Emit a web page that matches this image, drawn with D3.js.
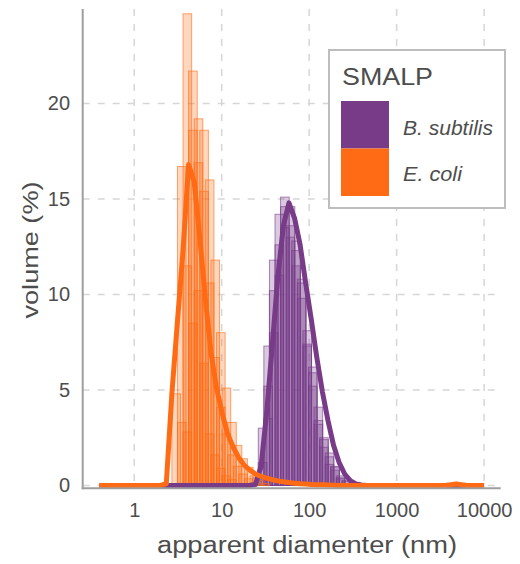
<!DOCTYPE html>
<html>
<head>
<meta charset="utf-8">
<script src="https://cdn.jsdelivr.net/npm/d3@7"></script>
<style>
  body { margin: 0; background: #fff; }
  text { font-family: "Liberation Sans", Arial, sans-serif; fill: #4d4d4d; }
</style>
</head>
<body>
<div id="chart"></div>
<script>
// tailles des classes (nm)
const sizes = [0.4, 0.4632, 0.5365, 0.6213, 0.7195, 0.8332, 0.9650, 1.117, 1.294, 1.499,
  1.736, 2.010, 2.328, 2.696, 3.122, 3.615, 4.187, 4.849, 5.615, 6.503,
  7.531, 8.721, 10.10, 11.70, 13.54, 15.69, 18.17, 21.04, 24.36, 28.21,
  32.67, 37.84, 43.82, 50.75, 58.77, 68.06, 78.82, 91.28, 105.7, 122.4,
  141.8, 164.2, 190.1, 220.2, 255.0, 295.3, 342.0, 396.1, 458.7, 531.2,
  615.1, 712.4, 825.0, 955.4, 1106, 1281, 1484, 1718, 1990, 2305,
  2669, 3091, 3580, 4145, 4801, 5560, 6439, 7456, 8635, 10000];

const seriesNames = ["B. subtilis", "E. coli"];
const seriesColors = ["#773b88", "#ff6b14"];

// mesures (3 répétitions) – B. subtilis
const bsubRep1 = [0,0,0,0,0,0,0,0,0,0, 0,0,0,0,0,0,0,0,0,0,
  0,0,0,0,0,0,0,0,3.0,7.3, 11.8,14.2,15.1,14.6,12.8,10.8,8.1,6.2,4.1,2.5,
  1.7,1.0,0.5,0.26,0.1,0,0,0,0,0, 0,0,0,0,0,0,0,0,0,0, 0,0,0,0,0,0,0,0,0,0];
const bsubRep2 = [0,0,0,0,0,0,0,0,0,0, 0,0,0,0,0,0,0,0,0,0,
  0,0,0,0,0,0,0,0.4,1.2,5.2, 10.2,12.6,14.6,13.6,12.3,10.6,7.4,5.9,3.4,2.4,
  1.5,0.96,0.4,0.2,0,0,0,0,0,0, 0,0,0,0,0,0,0,0,0,0, 0,0,0,0,0,0,0,0,0,0];
const bsubRep3 = [0,0,0,0,0,0,0,0,0,0, 0,0,0,0,0,0,0,0,0,0,
  0,0,0,0,0,0,0,0,0.5,3.5, 8.0,11.0,13.5,13.0,11.5,9.8,7.3,5.2,3.2,2.0,
  1.1,0.8,0.35,0.1,0,0,0,0,0,0, 0,0,0,0,0,0,0,0,0,0, 0,0,0,0,0,0,0,0,0,0];

// mesures (3 répétitions) – E. coli
const ecoliRep1 = [0,0,0,0,0,0,0,0,0,0, 0,0,0,4.8,16.7,24.7,21.7,19.2,18.6,16.0,
  11.8,8.0,5.1,3.3,2.1,1.4,0.95,0.5,0.25,0.1, 0,0,0,0,0,0,0,0,0,0,
  0,0,0,0,0,0,0,0,0,0, 0,0,0,0,0,0,0,0,0,0, 0,0,0,0,0,0,0,0,0,0];
const ecoliRep2 = [0,0,0,0,0,0,0,0,0,0, 0,0,0,0,3.3,11.5,18.6,16.9,15.4,10.6,
  6.7,4.1,2.7,1.6,1.0,0.6,0.35,0.15,0,0, 0,0,0,0,0,0,0,0,0,0,
  0,0,0,0,0,0,0,0,0,0, 0,0,0,0,0,0,0,0,0,0, 0,0,0,0,0,0,0,0,0,0];
const ecoliRep3 = [0,0,0,0,0,0,0,0,0,0, 0,0,0,0,0,2.8,8.5,10.2,6.4,2.7,
  1.6,0.9,0.5,0.3,0.1,0,0,0,0,0, 0,0,0,0,0,0,0,0,0,0,
  0,0,0,0,0,0,0,0,0,0, 0,0,0,0,0,0,0,0,0,0, 0,0,0,0,0,0,0,0,0,0];

// courbes ajustées
const bsubFit = [0,0,0,0,0,0,0,0,0,0, 0,0,0,0,0,0,0,0,0,0,
  0,0,0,0,0,0,0,0,0.05,1.0, 3.8,7.3,10.9,13.6,14.8,14.0,12.6,10.6,8.7,6.7,
  4.9,3.4,2.1,1.2,0.6,0.25,0.08,0.02,0,0, 0,0,0,0,0,0,0,0,0,0, 0,0,0,0,0,0,0,0,0,0];
const ecoliFit = [0,0,0,0,0,0,0,0,0,0, 0,0,0.1,4.8,8.6,12.3,16.8,15.9,13.0,9.8,
  7.0,5.1,3.8,2.7,2.0,1.45,1.05,0.8,0.6,0.47, 0.38,0.3,0.24,0.19,0.15,0.12,0.09,0.07,0.05,0.04,
  0.03,0.02,0.01,0,0,0,0,0,0,0, 0,0,0,0,0,0,0,0,0,0, 0,0,0,0.04,0.07,0.04,0,0,0,0];

const xTicks = [1, 10, 100, 1000, 10000];
const yTicks = [0, 5, 10, 15, 20];

const width = 520, height = 564;
const plot = { left: 82.7, right: 500.7, top: 9, bottom: 488.3 };

const svg = d3.select("#chart").append("svg")
  .attr("width", width).attr("height", height);

const x = d3.scaleLog().domain([0.2577, 15490]).range([plot.left, plot.right]);
const y = d3.scaleLinear().domain([-0.15, 24.95]).range([plot.bottom, plot.top]);

// grille
const grid = svg.append("g")
  .attr("stroke", "#d6d6d6").attr("stroke-width", 1.5).attr("stroke-dasharray", "7,8");
grid.selectAll(".gx").data(xTicks).enter().append("line")
  .attr("x1", d => x(d)).attr("x2", d => x(d)).attr("y1", plot.top).attr("y2", plot.bottom);
grid.selectAll(".gy").data(yTicks).enter().append("line")
  .attr("y1", d => y(d)).attr("y2", d => y(d)).attr("x1", plot.left).attr("x2", plot.right);

// barres
const step = Math.log10(sizes[1] / sizes[0]);
const barWidth = 1.55 * step;
const series = [
  { name: seriesNames[0], color: seriesColors[0], reps: [bsubRep1, bsubRep2, bsubRep3], fit: bsubFit, shift: 0.5 },
  { name: seriesNames[1], color: seriesColors[1], reps: [ecoliRep1, ecoliRep2, ecoliRep3], fit: ecoliFit, shift: 0 }
];

series.forEach(s => {
  const g = svg.append("g");
  s.reps.forEach(rep => {
    g.selectAll(null)
      .data(rep.map((v, i) => ({ size: sizes[i], value: v })))
      .enter().append("rect")
      .attr("x", d => x(d.size * Math.pow(10, s.shift * step)))
      .attr("width", d => x(d.size * Math.pow(10, (s.shift * step) + barWidth)) - x(d.size * Math.pow(10, s.shift * step)))
      .attr("y", d => y(d.value))
      .attr("height", d => y(0) - y(d.value))
      .attr("fill", s.color).attr("fill-opacity", 0.27)
      .attr("stroke", s.color).attr("stroke-opacity", 0.6).attr("stroke-width", 1);
  });
});

// courbes
const line = d3.line().x(d => x(d.size)).y(d => y(d.value));
series.forEach(s => {
  svg.append("path")
    .datum(s.fit.map((v, i) => ({ size: sizes[i], value: v })))
    .attr("d", line)
    .attr("fill", "none")
    .attr("stroke", s.color)
    .attr("stroke-width", 5)
    .attr("stroke-linejoin", "round");
});

// axes
svg.append("line").attr("x1", plot.left).attr("x2", plot.left).attr("y1", plot.top).attr("y2", plot.bottom + 1)
  .attr("stroke", "#9e9e9e").attr("stroke-width", 2);
svg.append("line").attr("x1", plot.left - 1).attr("x2", plot.right).attr("y1", plot.bottom).attr("y2", plot.bottom)
  .attr("stroke", "#9e9e9e").attr("stroke-width", 2);

const xAxis = svg.append("g")
  .attr("transform", `translate(0,${plot.bottom})`)
  .call(d3.axisBottom(x).tickValues(xTicks).tickFormat(d3.format("d")).tickSize(0).tickPadding(14.5));
const yAxis = svg.append("g")
  .attr("transform", `translate(${plot.left},0)`)
  .call(d3.axisLeft(y).tickValues(yTicks).tickSize(0).tickPadding(12.7));
[xAxis, yAxis].forEach(a => {
  a.select(".domain").remove();
  a.selectAll("text").attr("font-size", 20).attr("font-family", null).style("fill", "#4d4d4d");
});

// titres des axes
svg.append("text")
  .attr("x", 307).attr("y", 553)
  .attr("text-anchor", "middle").attr("font-size", 23.5)
  .attr("textLength", 300).attr("lengthAdjust", "spacingAndGlyphs")
  .text("apparent diamenter (nm)");
svg.append("text")
  .attr("transform", "translate(38,250) rotate(-90)")
  .attr("text-anchor", "middle").attr("font-size", 22)
  .attr("textLength", 137).attr("lengthAdjust", "spacingAndGlyphs")
  .text("volume (%)");

// légende
const legend = svg.append("g");
legend.append("rect")
  .attr("x", 329).attr("y", 50).attr("width", 176).attr("height", 158)
  .attr("fill", "#fff").attr("stroke", "#bdbdbd").attr("stroke-width", 2);
legend.append("text")
  .attr("x", 342).attr("y", 85).attr("font-size", 23.5)
  .attr("textLength", 91).attr("lengthAdjust", "spacingAndGlyphs")
  .text("SMALP");
seriesNames.forEach((name, i) => {
  legend.append("rect")
    .attr("x", 341).attr("y", 101 + i * 47.5).attr("width", 48).attr("height", 47.5)
    .attr("fill", seriesColors[i]);
  legend.append("text")
    .attr("x", 403).attr("y", 135 + i * 45.5)
    .attr("font-size", 20).attr("font-style", "italic")
    .attr("textLength", i === 0 ? 90 : 59).attr("lengthAdjust", "spacingAndGlyphs")
    .text(name);
});
</script>
</body>
</html>
